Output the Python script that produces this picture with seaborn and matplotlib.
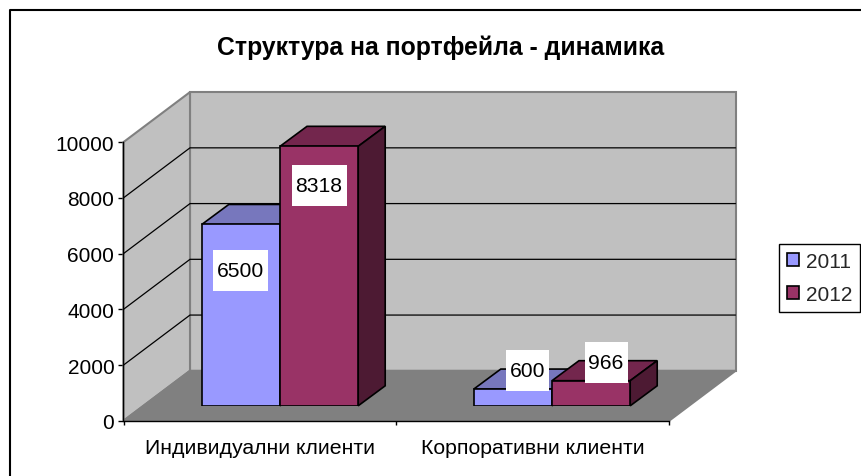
import matplotlib
matplotlib.use("Agg")
import matplotlib.pyplot as plt
import pandas as pd
import seaborn as sns
from matplotlib.lines import Line2D
from matplotlib.patches import Polygon, Rectangle
from matplotlib.transforms import Affine2D

categories = ["Индивидуални клиенти", "Корпоративни клиенти"]
series_names = ["2011", "2012"]
# Heights as drawn in the picture; the printed labels differ for 2012.
values_2011 = [6500, 600]
values_2012 = [9300, 900]
labels_2011 = ["6500", "600"]
labels_2012 = ["8318", "966"]
y_ticks = [0, 2000, 4000, 6000, 8000, 10000]
title = "Структура на портфейла - динамика"

BLUE, MAROON = "#9999FF", "#993366"
TOP = {BLUE: "#7777BD", MAROON: "#73264D"}
SIDE = {BLUE: "#4D4D80", MAROON: "#4D1A33"}
W, H = 861, 477
FS = 15
YS = 0.8  # whole-chart nudge down, px

sns.set_theme(style="white")
plt.rcParams["font.family"] = ["Liberation Sans", "DejaVu Sans"]

fig = plt.figure(figsize=(W / 100, H / 100), dpi=100, facecolor="white")


def frac_rect(x0, x1, ytop, ybottom):
    return [x0 / W, 1 - (ybottom + YS) / H, (x1 - x0) / W, (ybottom - ytop) / H]


# Chart frame: only the top and left edges fall inside the picture.
fig.add_artist(Line2D([9.5 / W, 9.5 / W, 1], [0, 1 - 10.5 / H, 1 - 10.5 / H],
                      transform=fig.transFigure, color="black", lw=1.5, zorder=-1))

ax = fig.add_axes(frac_rect(123.5, 669, 142.3, 421), facecolor="none")
ax.set_xlim(-0.5, 1.5)
ax.set_ylim(0, 10000)
for s in ("top", "right"):
    ax.spines[s].set_visible(False)
for s in ("left", "bottom"):
    ax.spines[s].set_color("black")
    ax.spines[s].set_linewidth(1.0)
    ax.spines[s].set_zorder(6)

back = ax.transData + Affine2D().translate(66.5, 50)  # depth of the 3D box, px
data = ax.transData


def to_px(tr, x, y):
    return tuple(tr.transform((x, y)))


def box_poly(pts, fc, ec, lw=1.5, z=1):
    ax.add_patch(Polygon(pts, closed=True, transform=None, fc=fc, ec=ec, lw=lw,
                         zorder=z, clip_on=False, joinstyle="miter"))


x0, x1, y0, y1 = -0.5, 1.5, 0, 10000
box_poly([to_px(back, x0, y0), to_px(back, x1, y0), to_px(back, x1, y1), to_px(back, x0, y1)],
         "#C0C0C0", "#808080")
box_poly([to_px(data, x0, y0), to_px(back, x0, y0), to_px(back, x0, y1), to_px(data, x0, y1)],
         "#C0C0C0", "#808080")
box_poly([to_px(data, x0, y0), to_px(data, x1, y0), to_px(back, x1, y0), to_px(back, x0, y0)],
         "#808080", "#808080")
for t in y_ticks[1:-1]:
    a, b, c = to_px(data, x0, t), to_px(back, x0, t), to_px(back, x1, t)
    ax.add_line(Line2D([a[0], b[0], c[0]], [a[1], b[1], c[1]], transform=None,
                       color="black", lw=0.9, zorder=2, clip_on=False))

ax.set_yticks(y_ticks)
ax.set_xticks([-0.5, 0.5, 1.5])
ax.set_xticklabels([])
ax.set_xticks([0, 1], minor=True)
ax.set_xticklabels(categories, minor=True, fontsize=15.3, color="black")
ax.tick_params(axis="x", which="major", bottom=True, length=3, width=1, color="black")
ax.tick_params(axis="x", which="minor", bottom=False, pad=8.5)
ax.tick_params(axis="y", left=True, length=3.6, width=1, color="black", labelsize=FS,
               labelcolor="black", pad=3)

fig.text(441 / W, 1 - 47.5 / H, title, ha="center", va="center", fontsize=17.85,
         fontweight="bold", color="black")

# Bars stand on the floor, set back from the front edge of the box.
bx = fig.add_axes(frac_rect(144, 688, 127, 406), facecolor="none", zorder=3)
df = pd.DataFrame({
    "cat": categories * 2,
    "series": [series_names[0]] * 2 + [series_names[1]] * 2,
    "value": values_2011 + values_2012,
})
sns.barplot(data=df, x="cat", y="value", hue="series", palette=[BLUE, MAROON], ax=bx,
            width=0.575, gap=0, dodge=True, saturation=1, errorbar=None,
            edgecolor="black", linewidth=1.2, legend=False, zorder=3)
bx.set_xlim(-0.5, 1.5)
bx.set_ylim(0, 10000)
bx.set_axis_off()

DX, DY = 27, 20
colors = [BLUE, BLUE, MAROON, MAROON]
texts = labels_2011 + labels_2012
label_shift = [(0, -46), (15, 19), (0, -39), (15, 18.5)]  # px from the bar's top centre
bars = [b for b in bx.patches if b.get_height() > 0]
for bar, col, txt, (sx, sy) in zip(bars, colors, texts, label_shift):
    xa, xb = bar.get_x(), bar.get_x() + bar.get_width()
    top = bar.get_height()
    tr = bx.transData
    a = tr.transform((xa, top)); b = tr.transform((xb, top)); c = tr.transform((xb, 0))
    bx.add_patch(Polygon([a, b, b + (DX, DY), a + (DX, DY)], transform=None, fc=TOP[col],
                         ec="black", lw=1.2, zorder=2, clip_on=False))
    bx.add_patch(Polygon([b, c, c + (DX, DY), b + (DX, DY)], transform=None, fc=SIDE[col],
                         ec="black", lw=1.2, zorder=2, clip_on=False))
    cx, cy = (a + b) / 2 + (sx, sy)
    box_w = 12 * len(txt) + 7
    bx.add_patch(Rectangle((cx - box_w / 2, cy - 20.5), box_w, 41, transform=None,
                           fc="white", ec="none", zorder=4, clip_on=False))
    bx.annotate(txt, xy=((xa + xb) / 2, top), xycoords="data",
                xytext=(sx, sy), textcoords="offset pixels",
                ha="center", va="center", fontsize=15.2, color="black", zorder=5)

handles = [Rectangle((0, 0), 1, 1, fc=c, ec="black", lw=1.2) for c in (BLUE, MAROON)]
fig.legend(handles, series_names, loc="center", bbox_to_anchor=(819.5 / W, 1 - 279 / H),
           fontsize=FS, frameon=True, fancybox=False, edgecolor="black", framealpha=1,
           borderpad=0.38, handlelength=0.58, handleheight=0.58, handletextpad=0.34,
           labelspacing=0.67, borderaxespad=0).get_frame().set_linewidth(1.0)

fig.savefig("out.png", dpi=100, facecolor="white")
